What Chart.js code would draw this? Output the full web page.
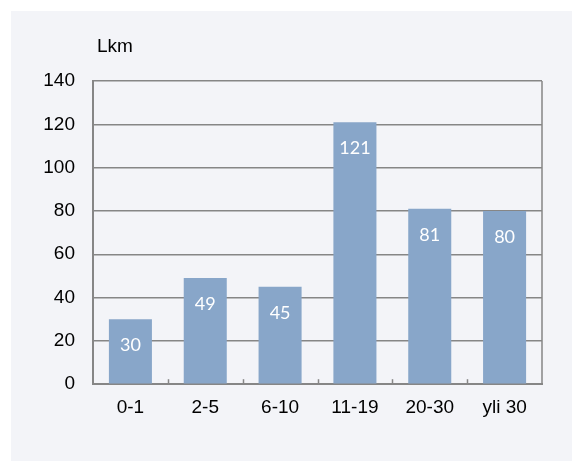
<!DOCTYPE html>
<html>
<head>
<meta charset="utf-8">
<script src="https://cdn.jsdelivr.net/npm/chart.js@4"></script>
<style>
  html, body { margin: 0; padding: 0; background: #ffffff; }
  #panel { position: absolute; left: 11px; top: 11px; width: 561px; height: 450px; background: #f3f4f8; }
  canvas { display: block; }
</style>
</head>
<body>
<div id="panel"><canvas id="c" width="561" height="450"></canvas></div>
<script>
const categories = ["0-1", "2-5", "6-10", "11-19", "20-30", "yli 30"];
const values = [30, 49, 45, 121, 81, 80];
const yTicks = [0, 20, 40, 60, 80, 100, 120, 140];
const unitLabel = "Lkm";

const decor = {
  id: 'decor',
  afterDatasetsDraw(chart) {
    const ctx = chart.ctx;
    const x = chart.scales.x;
    const area = chart.chartArea;
    ctx.save();
    ctx.strokeStyle = '#868686';
    ctx.lineWidth = 1.5;
    for (let i = 0; i < categories.length - 1; i++) {
      const px = Math.round((x.getPixelForValue(i) + x.getPixelForValue(i + 1)) / 2) + 0.5;
      ctx.beginPath();
      ctx.moveTo(px, area.bottom);
      ctx.lineTo(px, area.bottom - 5);
      ctx.stroke();
    }
    ctx.beginPath();
    ctx.moveTo(area.right, area.top);
    ctx.lineTo(area.right, area.bottom);
    ctx.stroke();
    ctx.fillStyle = '#ffffff';
    ctx.font = '18px Lato, "Open Sans", sans-serif';
    ctx.textAlign = 'center';
    ctx.textBaseline = 'middle';
    chart.getDatasetMeta(0).data.forEach((bar, i) => {
      ctx.fillText(String(values[i]), bar.x, bar.y + 26);
    });
    ctx.fillStyle = '#000000';
    ctx.font = '19px "Liberation Sans", Arial, sans-serif';
    ctx.textAlign = 'left';
    ctx.textBaseline = 'alphabetic';
    ctx.fillText(unitLabel, area.left + 4, 41);
    ctx.restore();
  }
};

new Chart(document.getElementById('c'), {
  type: 'bar',
  data: {
    labels: categories,
    datasets: [{
      data: values,
      backgroundColor: '#88a6c9',
      borderWidth: 0,
      barPercentage: 0.575,
      categoryPercentage: 1.0
    }]
  },
  options: {
    responsive: false,
    animation: false,
    devicePixelRatio: 1,
    layout: { padding: { left: 0, right: 30, top: 70, bottom: 30 } },
    plugins: { legend: { display: false }, title: { display: false }, tooltip: { enabled: false } },
    scales: {
      x: {
        grid: { display: false, drawTicks: false },
        border: { display: true, color: '#868686', width: 2 },
        ticks: { color: '#000000', font: { family: '"Liberation Sans", Arial, sans-serif', size: 19 }, padding: 12, maxRotation: 0 }
      },
      y: {
        min: 0, max: 140,
        afterFit(scale) { scale.width = 82; },
        afterBuildTicks(scale) { scale.ticks = yTicks.map(v => ({ value: v })); },
        grid: { color: '#868686', lineWidth: 1.5, drawTicks: false },
        border: { display: true, color: '#868686', width: 2 },
        ticks: { color: '#000000', font: { family: '"Liberation Sans", Arial, sans-serif', size: 19 }, padding: 18 }
      }
    }
  },
  plugins: [decor]
});
</script>
</body>
</html>
